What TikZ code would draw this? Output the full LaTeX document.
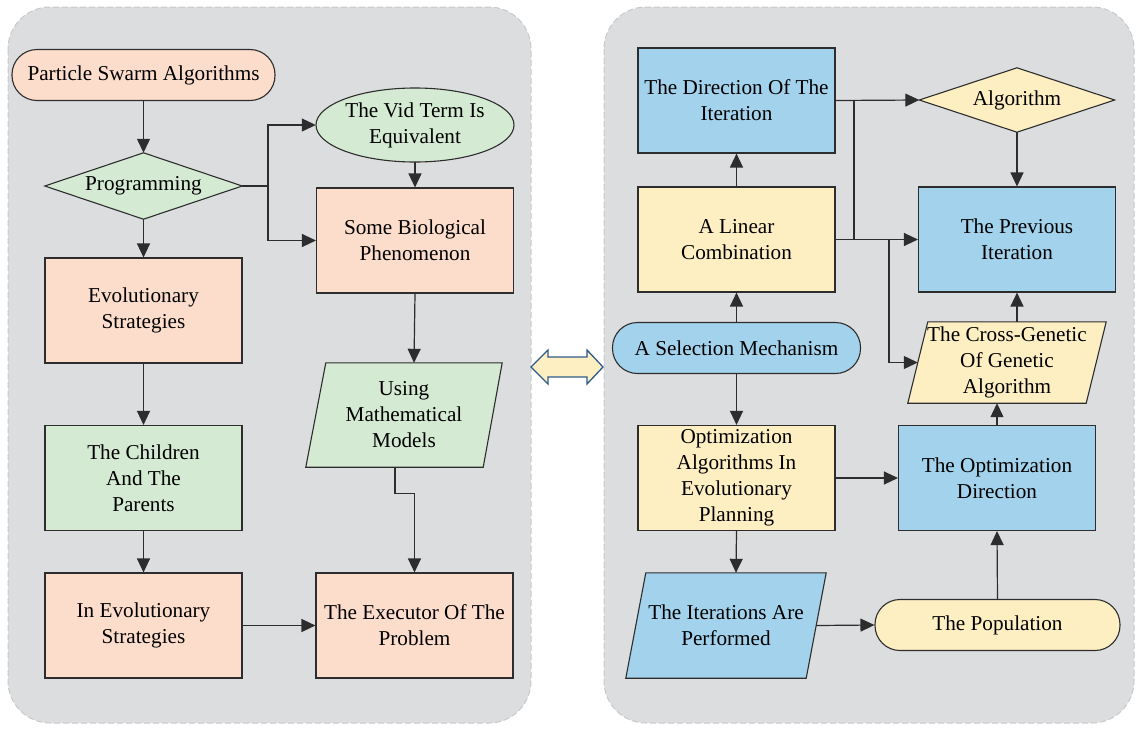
\documentclass[tikz,border=0pt]{standalone}
\usepackage{fontspec}
\setmainfont{Liberation Serif}
\usetikzlibrary{arrows.meta,calc}
\pgfdeclarelayer{bg}
\pgfdeclarelayer{mid}
\pgfsetlayers{bg,mid,main}
\definecolor{peach}{RGB}{252,221,204}
\definecolor{mint}{RGB}{212,234,211}
\definecolor{sky}{RGB}{163,210,236}
\definecolor{cream}{RGB}{254,239,195}
\definecolor{panel}{RGB}{220,221,223}
\definecolor{panelline}{RGB}{200,201,203}
\definecolor{edge}{RGB}{45,45,45}
\definecolor{dblue}{RGB}{47,91,138}
\newcommand\diafont{\fontsize{21.2}{26}\selectfont}
\begin{document}
\begin{tikzpicture}[x=1pt,y=-1pt,
  box/.style={draw=edge, line width=1.1pt, minimum width=197pt, minimum height=105pt, align=center, font=\diafont, inner sep=0pt},
  pill/.style={draw=edge, line width=1.1pt, rounded corners=25pt, minimum height=51pt, align=center, font=\diafont, inner sep=0pt},
  hold/.style={align=center, font=\diafont, inner sep=0pt},
  shp/.style={draw=edge, line width=1.1pt},
  arr/.style={draw=edge, line width=1.2pt, -{Triangle[length=14pt,width=13pt]}},
  ln/.style={draw=edge, line width=1.2pt}
]
\useasboundingbox (0,0) rectangle (1136,729);
\begin{pgfonlayer}{bg}
\draw[fill=panel, draw=panelline, dash pattern=on 6pt off 3pt, line width=1pt, rounded corners=42pt] (8,7) rectangle (531,723);
\draw[fill=panel, draw=panelline, dash pattern=on 6pt off 3pt, line width=1pt, rounded corners=42pt] (604,7) rectangle (1134,723);
\end{pgfonlayer}

% left panel
\node[pill, fill=peach, minimum width=263pt] (psa) at (143.5,75) {Particle Swarm Algorithms};
\node[hold, minimum width=197pt, minimum height=66pt] (prog) at (143.5,186) {Programming};
\node[hold, minimum width=198pt, minimum height=74pt] (vid) at (415,125) {The Vid Term Is\\Equivalent};
\node[box, fill=peach] (bio) at (415,240.5) {Some Biological\\Phenomenon};
\node[box, fill=peach] (evo) at (143.5,310.5) {Evolutionary\\Strategies};
\node[hold, minimum width=196pt, minimum height=104pt] (using) at (404,415) {Using\\Mathematical\\Models};
\node[box, fill=mint] (child) at (143.5,478) {The Children\\And The\\Parents};
\node[box, fill=peach] (inevo) at (143.5,625.5) {In Evolutionary\\Strategies};
\node[box, fill=peach] (exec) at (414.5,625.5) {The Executor Of The\\Problem};

% right panel
\node[box, fill=sky] (dir) at (736.5,100.5) {The Direction Of The\\Iteration};
\node[hold, minimum width=195pt, minimum height=64pt] (alg) at (1017,100) {Algorithm};
\node[box, fill=cream] (lin) at (736.5,239.5) {A Linear\\Combination};
\node[box, fill=sky] (prev) at (1017,239.5) {The Previous\\Iteration};
\node[pill, fill=sky, minimum width=248pt] (sel) at (736.5,348) {A Selection Mechanism};
\node[hold, minimum width=198pt, minimum height=81pt] (cg) at (1007,362.5) {The Cross-Genetic\\Of Genetic\\Algorithm};
\node[box, fill=cream] (optalg) at (736.5,478) {Optimization\\Algorithms In\\Evolutionary\\Planning};
\node[box, fill=sky] (optdir) at (997,478) {The Optimization\\Direction};
\node[hold, minimum width=200pt, minimum height=105pt] (iter) at (726,625.5) {The Iterations Are\\Performed};
\node[pill, fill=cream, minimum width=245pt] (pop) at (997.5,625) {The Population};

\begin{pgfonlayer}{mid}
\path[shp, fill=mint] (prog.north) -- (prog.east) -- (prog.south) -- (prog.west) -- cycle;
\path[shp, fill=mint] (vid.center) ellipse [x radius=99pt, y radius=37pt];
\path[shp, fill=mint] ([xshift=20pt]using.north west) -- (using.north east) -- ([xshift=-19pt]using.south east) -- (using.south west) -- cycle;
\path[shp, fill=cream] (alg.north) -- (alg.east) -- (alg.south) -- (alg.west) -- cycle;
\path[shp, fill=cream] ([xshift=20pt]cg.north west) -- (cg.north east) -- ([xshift=-20pt]cg.south east) -- (cg.south west) -- cycle;
\path[shp, fill=sky] ([xshift=20pt]iter.north west) -- (iter.north east) -- ([xshift=-20pt]iter.south east) -- (iter.south west) -- cycle;
\end{pgfonlayer}

% left connectors
\coordinate (j1) at (268,186);
\draw[arr] (psa.south) -- (prog.north);
\draw[ln] (prog.east) -- (j1);
\draw[arr] (j1) |- (vid.west);
\draw[arr] (j1) |- (bio.west);
\draw[arr] (prog.south) -- (evo.north);
\draw[arr] (vid.south) -- (bio.north);
\draw[arr] (bio.south) -- ([xshift=10pt]using.north);
\draw[arr] (evo.south) -- (child.north);
\draw[arr] (child.south) -- (inevo.north);
\draw[arr] (inevo.east) -- (exec.west);
\draw[arr] ([xshift=-9pt]using.south) -- ++(0,26) -| (exec.north);

% right connectors
\coordinate (j2) at (854,100);
\coordinate (j3) at (854,239.5);
\coordinate (j4) at (889,239.5);
\draw[arr] (lin.north) -- (dir.south);
\draw[arr] (sel.north) -- (lin.south);
\draw[arr] (sel.south) -- (optalg.north);
\draw[arr] (optalg.south) -- ([xshift=10pt]iter.north);
\draw[arr] ([xshift=-10pt]iter.east) -- (pop.west);
\draw[arr] (pop.north) -- (optdir.south);
\draw[arr] (optdir.north) -- ([xshift=-10pt]cg.south);
\draw[arr] ([xshift=10pt]cg.north) -- (prev.south);
\draw[arr] (dir.east) -- (alg.west);
\draw[arr] (alg.south) -- (prev.north);
\draw[arr] (lin.east) -- (prev.west);
\draw[ln] (j2) -- (j3);
\draw[arr] (j4) |- ([xshift=10pt]cg.west);
\draw[arr] (optalg.east) -- (optdir.west);

% middle double arrow
\draw[fill=cream, draw=dblue, line width=1.3pt, line join=miter]
  (531,367) -- (548,350) -- (548,357) -- (587,357) -- (587,350) -- (603,367)
  -- (587,384) -- (587,377) -- (548,377) -- (548,384) -- cycle;
\end{tikzpicture}
\end{document}
